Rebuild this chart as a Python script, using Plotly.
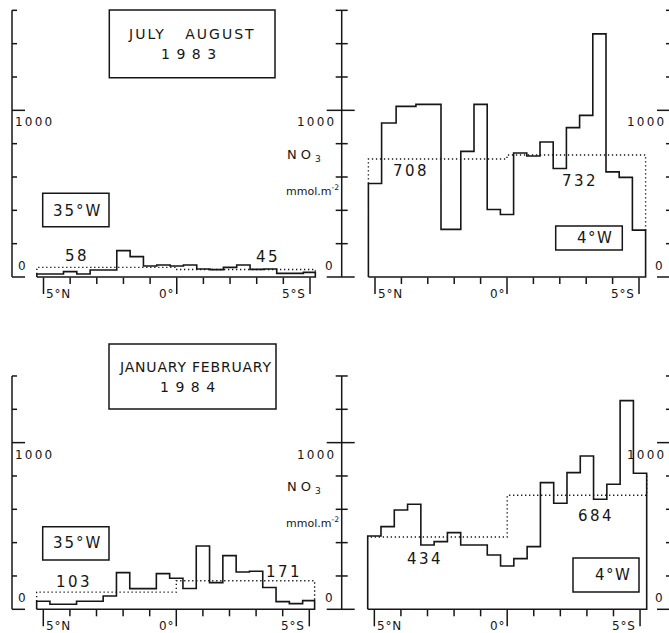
import plotly.graph_objects as go

W, H = 669, 633

# ---- Integrated NO3 (mmol m-2) along the sections, latitude in degrees (+ = north) ----
jul_35w_edges = [5.25, 4.25, 3.75, 3.25, 2.25, 1.75, 1.25, 0.75, 0.25, -0.25, -0.75,
                 -1.25, -1.75, -2.25, -2.75, -3.25, -3.75, -4.25, -4.75, -5.2]
jul_35w_no3 = [18, 32, 18, 42, 158, 122, 66, 72, 66, 72, 48, 44, 58, 72, 46, 48, 22, 22, 28]
jul_35w_means = [58, 45]          # mean north / south of the equator

jul_4w_edges = [5.25, 4.75, 4.2, 3.45, 2.5, 1.75, 1.25, 0.75, 0.25, -0.25, -0.75,
                -1.25, -1.75, -2.25, -2.75, -3.25, -3.75, -4.25, -4.75, -5.25]
jul_4w_no3 = [561, 924, 1024, 1036, 286, 754, 1036, 405, 375, 744, 726, 810, 651,
              896, 970, 1459, 631, 598, 281]
jul_4w_means = [708, 732]

jan_35w_edges = [5.25, 4.75, 3.75, 2.75, 2.25, 1.75, 0.75, 0.25, -0.25, -0.75, -1.25,
                 -1.75, -2.25, -2.75, -3.25, -3.75, -4.25, -4.75, -5.2]
jan_35w_no3 = [48, 30, 48, 80, 220, 124, 214, 186, 125, 380, 160, 322, 224, 228,
               131, 46, 34, 52]
jan_35w_means = [103, 171]

jan_4w_edges = [5.25, 4.75, 4.25, 3.75, 3.25, 2.75, 2.25, 1.75, 0.75, 0.25, -0.25, -0.75,
                -1.25, -1.75, -2.25, -2.75, -3.25, -3.75, -4.25, -4.75, -5.25]
jan_4w_no3 = [440, 496, 596, 630, 386, 406, 460, 386, 326, 260, 304, 376, 760, 636,
              820, 920, 660, 750, 1252, 816]
jan_4w_means = [434, 684]

lat_ticks = [5, 4, 3, 2, 1, 0, -1, -2, -3, -4, -5]
lat_major = [5, 0, -5]
lat_labels = ["5°N", "0°", "5°S"]
no3_step = 200

INK = "#161616"
FONT = "DejaVu Sans"


def px(x):
    return x / W


def py(y):
    return 1 - y / H


def spaced(txt, ls):
    return f'<span style="letter-spacing:{ls}px">{txt}</span>'


# panel frames: pixel of the equator, px per degree, pixel of zero NO3, y-axis x pixel
panels = [
    dict(edges=jul_35w_edges, no3=jul_35w_no3, means=jul_35w_means,
         cx=176.75, sx=26.65, y0=277, ax=12, ytop=1600, side="right",
         mean_lbl=[(3.76, 11), (-3.44, 13)]),
    dict(edges=jul_4w_edges, no3=jul_4w_no3, means=jul_4w_means,
         cx=507, sx=26.4, y0=277, ax=341.7, ytop=1600, side="cross",
         mean_lbl=[(3.64, -12), (-2.77, -26)]),
    dict(edges=jan_35w_edges, no3=jan_35w_no3, means=jan_35w_means,
         cx=176.3, sx=26.6, y0=609.3, ax=12, ytop=1400, side="right",
         mean_lbl=[(3.83, 10), (-4.05, 9)]),
    dict(edges=jan_4w_edges, no3=jan_4w_no3, means=jan_4w_means,
         cx=507.2, sx=26.57, y0=609.3, ax=341.7, ytop=1400, side="cross",
         mean_lbl=[(3.11, -22), (-3.36, -21)]),
]
PX_PER_UNIT = 1 / 6.0   # 1000 mmol m-2 = 166.7 px

fig = go.Figure()
shapes, annotations = [], []
layout_axes = {}


def line_shape(**kw):
    d = dict(type="line", line=dict(color=INK, width=1.5), layer="above")
    d.update(kw)
    return d


def y_axis(ax, yref, ytop, side, label_side):
    shapes.append(line_shape(xref="paper", yref=yref, x0=px(ax), x1=px(ax), y0=0, y1=ytop))
    for val in range(0, ytop + 1, no3_step):
        long = val in (0, 1000)
        if side == "right":
            a, b = 0, (13 if long else 5)
        else:
            a, b = (-15 if long else -6), (13 if long else 6)
        shapes.append(line_shape(xref="paper", yref=yref, x0=px(ax + a), x1=px(ax + b),
                                 y0=val, y1=val))
    f = dict(family=FONT, size=12, color=INK)
    if label_side == "right":
        annotations.append(dict(text=spaced("1000", 2.2), xref="paper", yref=yref,
                                x=px(ax + 1), y=1000, yshift=-12, xanchor="left",
                                yanchor="middle", showarrow=False, font=f))
        annotations.append(dict(text="0", xref="paper", yref=yref, x=px(ax + 10), y=0,
                                yshift=11, xanchor="center", yanchor="middle",
                                showarrow=False, font=f))
    else:
        annotations.append(dict(text=spaced("1000", 2.2), xref="paper", yref=yref,
                                x=px(ax - 4), y=1000, yshift=-12, xanchor="right",
                                yanchor="middle", showarrow=False, font=f))
        annotations.append(dict(text="0", xref="paper", yref=yref, x=px(ax - 7), y=0,
                                yshift=11, xanchor="right", yanchor="middle",
                                showarrow=False, font=f))


for i, p in enumerate(panels, start=1):
    sfx = "" if i == 1 else str(i)
    xa, ya = "x" + sfx, "y" + sfx
    layout_axes["xaxis" + sfx] = dict(domain=[0, 1], visible=False, anchor=ya,
                                      range=[p["cx"] / p["sx"], (p["cx"] - W) / p["sx"]])
    layout_axes["yaxis" + sfx] = dict(domain=[0, 1], visible=False, anchor=xa,
                                      range=[(p["y0"] - H) / PX_PER_UNIT, p["y0"] / PX_PER_UNIT])

    e, v = p["edges"], p["no3"]
    # closed step outline of the section
    xs, ys = [e[0]], [0]
    for j, val in enumerate(v):
        xs += [e[j], e[j + 1]]
        ys += [val, val]
    xs += [e[-1], e[0]]
    ys += [0, 0]
    fig.add_trace(go.Scatter(x=xs, y=ys, mode="lines", xaxis=xa, yaxis=ya,
                             line=dict(color=INK, width=1.6), hoverinfo="skip",
                             showlegend=False, cliponaxis=False))
    # hemispheric means (dotted)
    mN, mS = p["means"]
    fig.add_trace(go.Scatter(x=[e[0], e[0], 0, 0, e[-1], e[-1]],
                             y=[v[0], mN, mN, mS, mS, v[-1]],
                             mode="lines", xaxis=xa, yaxis=ya,
                             line=dict(color=INK, width=1.4, dash="1.3px,2.7px"),
                             hoverinfo="skip", showlegend=False, cliponaxis=False))
    for (lat, shift), m in zip(p["mean_lbl"], p["means"]):
        annotations.append(dict(text=spaced(str(m), 2.5), xref=xa, yref=ya, x=lat, y=m,
                                yshift=shift, showarrow=False, xanchor="center",
                                yanchor="middle",
                                font=dict(family=FONT, size=15, color=INK)))

    # latitude ticks hanging below the baseline
    for lat in lat_ticks:
        long = lat in lat_major
        shapes.append(line_shape(xref=xa, yref="paper", x0=lat, x1=lat,
                                 y0=py(p["y0"] + 0.5), y1=py(p["y0"] + (17 if long else 7))))
    for lat, txt, shift in zip(lat_major, lat_labels, [15, -10, -16]):
        annotations.append(dict(text=spaced(txt, 0.8), xref=xa, yref="paper", x=lat,
                                y=py(p["y0"] + 17), xshift=shift, showarrow=False,
                                xanchor="center", yanchor="middle",
                                font=dict(family=FONT, size=12, color=INK)))

    # NO3 axis
    if p["side"] == "right":
        y_axis(p["ax"], ya, p["ytop"], "right", "right")
    else:
        y_axis(p["ax"], ya, p["ytop"], "cross", "left")
        # axis of the neighbouring column at the right edge
        y_axis(p["ax"] + 330.3, ya, p["ytop"], "cross", "left")
        t1000 = p["y0"] - 1000 * PX_PER_UNIT
        annotations.append(dict(text=spaced("NO", 4) + "<sub>3</sub>", xref="paper",
                                yref="paper", x=px(304), y=py(t1000 + 45),
                                showarrow=False, xanchor="center", yanchor="middle",
                                font=dict(family=FONT, size=13, color=INK)))
        annotations.append(dict(text="mmol.m<sup>-2</sup>", xref="paper", yref="paper",
                                x=px(341), y=py(t1000 + 80), showarrow=False,
                                xanchor="right", yanchor="middle",
                                font=dict(family=FONT, size=11, color=INK)))


def box(x0, y0, x1, y1):
    shapes.append(dict(type="rect", xref="paper", yref="paper", x0=px(x0), x1=px(x1),
                       y0=py(y1), y1=py(y0), line=dict(color=INK, width=1.5),
                       fillcolor="rgba(0,0,0,0)", layer="above"))


def label(txt, x, y, size=15, ls=1.5):
    annotations.append(dict(text=spaced(txt, ls), xref="paper", yref="paper",
                            x=px(x), y=py(y), showarrow=False, xanchor="center",
                            yanchor="middle", font=dict(family=FONT, size=size, color=INK)))


# survey titles
box(109.3, 10, 275, 77.7)
label("JULY\u00a0\u00a0\u00a0AUGUST", 192, 33.5, size=14, ls=2)
label("1983", 192, 54, size=14, ls=6.5)
box(109, 344, 276, 409)
label("JANUARY FEBRUARY", 196, 367, size=14, ls=0.8)
label("1984", 191, 387, size=14, ls=6.5)

# section longitude tags
box(42.7, 193.3, 109, 226.7)
label("35°W", 77.5, 211, size=15, ls=2)
box(42.7, 526.7, 109, 560)
label("35°W", 77, 543, size=15, ls=2)
box(555.7, 226, 622.3, 250)
label("4°W", 595, 238, size=15, ls=1.5)
box(573, 558, 639, 592)
label("4°W", 612.5, 575, size=15, ls=1.5)

fig.update_layout(
    width=W, height=H, autosize=False,
    margin=dict(l=0, r=0, t=0, b=0, pad=0),
    paper_bgcolor="white", plot_bgcolor="rgba(0,0,0,0)",
    shapes=shapes, annotations=annotations,
    **layout_axes,
)

fig.write_html("out.html")
